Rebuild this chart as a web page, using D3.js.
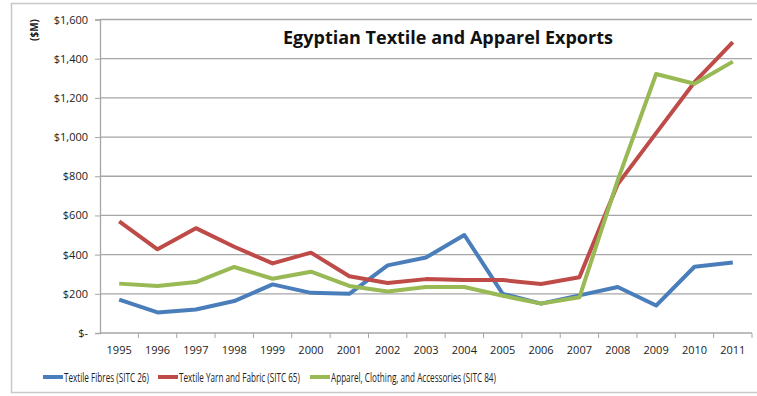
<!DOCTYPE html>
<html>
<head>
<meta charset="utf-8">
<script src="https://cdn.jsdelivr.net/npm/d3@7"></script>
<style>
  body { margin: 0; background: #fff; }
  text { font-family: "Open Sans", "Liberation Sans", sans-serif; }
</style>
</head>
<body>
<div id="chart"></div>
<script>
// data ($M)
var years = ["1995","1996","1997","1998","1999","2000","2001","2002","2003","2004","2005","2006","2007","2008","2009","2010","2011"];
var fibres  = [170, 105, 120, 163, 248, 205, 200, 345, 385, 500, 200, 150, 192, 235, 140, 338, 360];
var yarn    = [570, 427, 535, 440, 355, 410, 290, 255, 275, 270, 270, 250, 285, 760, 1020, 1280, 1485];
var apparel = [252, 240, 260, 337, 277, 313, 240, 212, 235, 235, 190, 150, 182, 780, 1322, 1272, 1385];
var yTicks  = [0, 200, 400, 600, 800, 1000, 1200, 1400, 1600];
var seriesNames = ["Textile Fibres (SITC 26)", "Textile Yarn and Fabric (SITC 65)", "Apparel, Clothing, and Accessories (SITC 84)"];
var colors = ["#4a7ebb", "#be4b48", "#98b954"];

var W = 757, H = 396;
var margin = {top: 19.5, right: 5, bottom: 63, left: 100},
    width = W - margin.left - margin.right,
    height = H - margin.top - margin.bottom;

var root = d3.select("#chart").append("svg")
    .attr("width", W).attr("height", H);

// outer frame
root.append("rect")
    .attr("x", 11.5).attr("y", 3.5)
    .attr("width", W).attr("height", 389)
    .attr("fill", "none").attr("stroke", "#c8c8c8").attr("stroke-width", 1.5);

var svg = root.append("g")
    .attr("transform", "translate(" + margin.left + "," + margin.top + ")");

var x = d3.scaleBand().domain(years).range([0, width]);
var y = d3.scaleLinear().domain([0, 1600]).range([height, 0]);

// gridlines
svg.append("g")
  .selectAll("line")
  .data(yTicks.slice(1))
  .enter().append("line")
    .attr("x1", 0).attr("x2", width)
    .attr("y1", function(d) { return y(d); })
    .attr("y2", function(d) { return y(d); })
    .attr("stroke", "#a6a6a6").attr("stroke-width", 1.3);

// Y axis
var fmt = d3.format(",");
var yAxis = svg.append("g")
    .call(d3.axisLeft(y).tickValues(yTicks).tickSize(5).tickPadding(7)
      .tickFormat(function(d) { return d === 0 ? "$-" : "$" + fmt(d); }));
yAxis.select(".domain").attr("stroke", "#a6a6a6").attr("stroke-width", 1.3);
yAxis.selectAll(".tick line").attr("stroke", "#a6a6a6");
yAxis.selectAll("text").attr("font-size", 11).attr("fill", "#222")
    .style("font-family", "'Open Sans', sans-serif");

// X axis (ticks between categories)
var xg = svg.append("g").attr("transform", "translate(0," + height + ")");
xg.append("line").attr("x1", 0).attr("x2", width)
    .attr("stroke", "#a6a6a6").attr("stroke-width", 1.3);
xg.selectAll(".xt")
  .data(years)
  .enter().append("line")
    .attr("class", "xt")
    .attr("x1", function(d) { return x(d) + x.bandwidth(); })
    .attr("x2", function(d) { return x(d) + x.bandwidth(); })
    .attr("y1", 0).attr("y2", 5)
    .attr("stroke", "#a6a6a6");
xg.selectAll(".xl")
  .data(years)
  .enter().append("text")
    .attr("class", "xl")
    .attr("x", function(d) { return x(d) + x.bandwidth() / 2; })
    .attr("y", 21)
    .attr("text-anchor", "middle")
    .attr("font-size", 11).attr("fill", "#222")
    .text(function(d) { return d; });

// lines
var line = d3.line()
    .x(function(d, i) { return x(years[i]) + x.bandwidth() / 2; })
    .y(function(d) { return y(d); });

[fibres, yarn, apparel].forEach(function(s, k) {
  svg.append("path")
    .datum(s)
    .attr("d", line)
    .attr("fill", "none")
    .attr("stroke", colors[k])
    .attr("stroke-width", 4)
    .attr("stroke-linejoin", "round");
});

// title
root.append("text")
    .attr("x", 448).attr("y", 44)
    .attr("text-anchor", "middle")
    .attr("font-size", 18).attr("font-weight", "bold").attr("fill", "#111")
    .text("Egyptian Textile and Apparel Exports");

// y label
root.append("text")
    .attr("transform", "translate(38,30) rotate(-90)")
    .attr("text-anchor", "middle")
    .attr("font-size", 10).attr("font-weight", "bold").attr("fill", "#222")
    .text("($M)");

// legend: squeeze text horizontally to mimic the narrow original font
var legX = [43, 158, 310];
var legW = [85, 121, 165];
var legend = root.selectAll(".legend")
  .data(seriesNames)
  .enter().append("g")
    .attr("class", "legend")
    .attr("transform", function(d, i) { return "translate(" + legX[i] + ",377)"; });
legend.append("line")
    .attr("x1", 0).attr("x2", 20)
    .attr("stroke", function(d, i) { return colors[i]; })
    .attr("stroke-width", 4);
legend.append("text")
    .attr("y", 4.5)
    .attr("font-size", 12.5).attr("fill", "#222")
    .text(function(d) { return d; })
    .attr("transform", function(d, i) {
      var w = this.getComputedTextLength();
      return "translate(21,0) scale(" + (legW[i] / w) + ",1)";
    });
</script>
</body>
</html>
